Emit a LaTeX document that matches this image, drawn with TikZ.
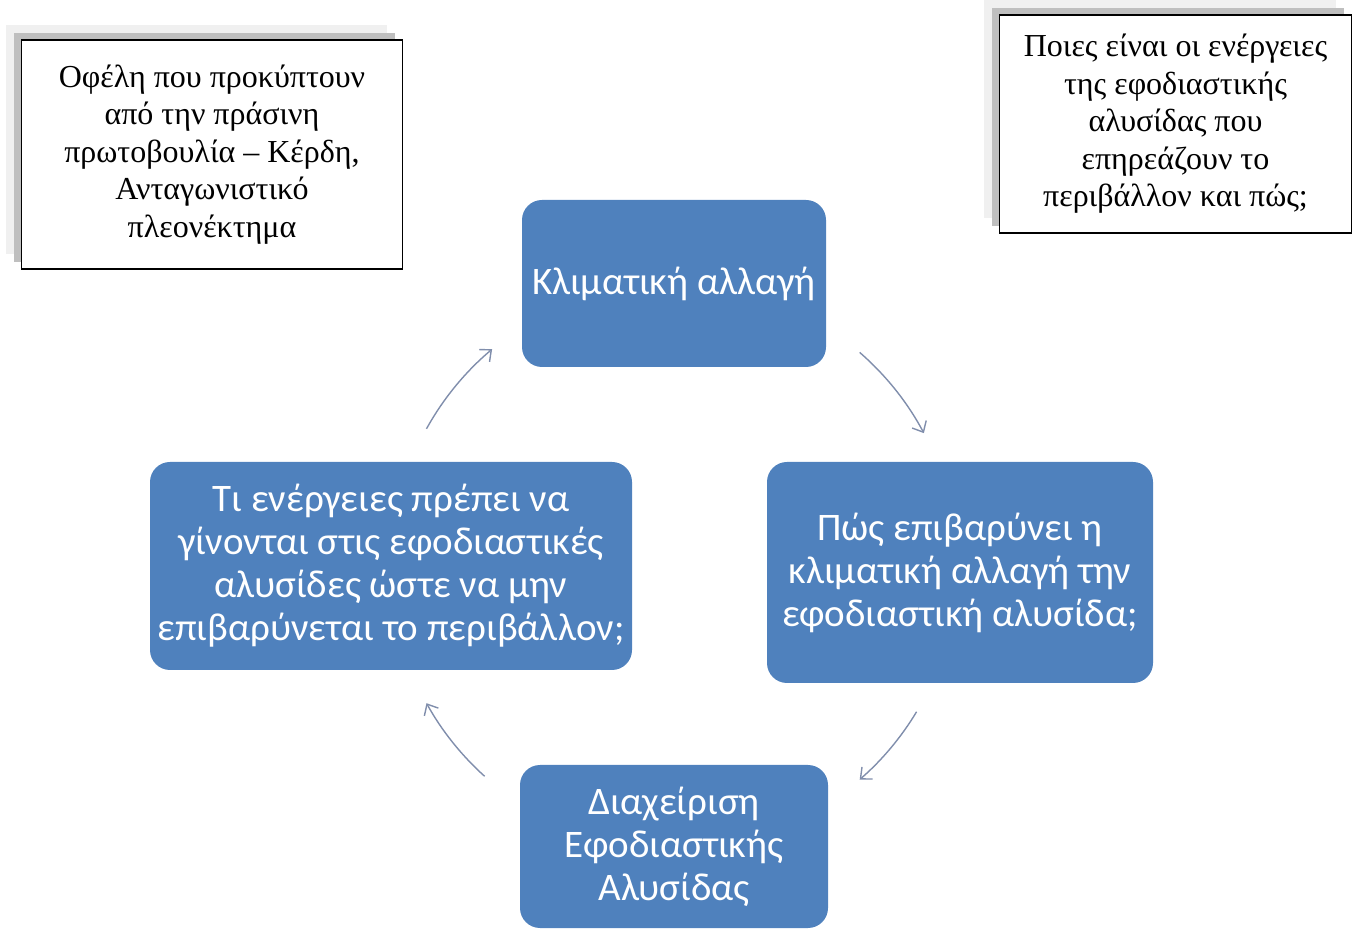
\documentclass[tikz,border=0pt]{standalone}
\usepackage{fontspec}
\setmainfont{Liberation Serif}
\newfontfamily\calibri{Carlito}
\usepackage{xcolor}
\usepackage{tikz}
\usetikzlibrary{positioning, arrows.meta, shadows}
\definecolor{accBlue}{RGB}{79, 129, 189}
\definecolor{accArrow}{RGB}{128, 142, 172}
\definecolor{shLight}{RGB}{240, 240, 240}
\definecolor{shDark}{RGB}{191, 191, 191}

\begin{document}
\begin{tikzpicture}[
    x=1pt, y=1pt,
    blk/.style={rectangle, rounded corners=20pt, fill=accBlue, draw=none, text=white,
        inner sep=0pt, align=center, font=\calibri\fontsize{39}{43}\selectfont},
    note/.style={rectangle, draw=black, line width=1.3pt, fill=white, inner sep=0pt,
        align=center, font=\fontsize{32}{37.5}\selectfont,
        general shadow={fill=shLight, shadow xshift=-16pt, shadow yshift=15pt},
        general shadow={fill=shDark, shadow xshift=-8pt, shadow yshift=7pt}},
    arr/.style={-{Straight Barb[length=9pt, width=16pt]}, line width=1.4pt, accArrow}
]
\useasboundingbox (0,0) rectangle (1353,930);

% side notes
\node[note, minimum width=381, minimum height=229] (advant) at (212,775.5)
    {Οφέλη που προκύπτουν\\από την πράσινη\\πρωτοβουλία – Κέρδη,\\Ανταγωνιστικό\\πλεονέκτημα};
\node[note, minimum width=352, minimum height=218] (query) at (1175.5,806)
    {Ποιες είναι οι ενέργειες\\της εφοδιαστικής\\αλυσίδας που\\επηρεάζουν το\\περιβάλλον και πώς;};

% cycle
\node[blk, minimum width=304, minimum height=167] (clim) at (674,646.5) {Κλιματική αλλαγή};
\node[blk, minimum width=386, minimum height=221] (impact) at (960,357.5)
    {Πώς επιβαρύνει η\\κλιματική αλλαγή την\\εφοδιαστική αλυσίδα;};
\node[blk, minimum width=308, minimum height=163] (scm) at (674,83.5)
    {Διαχείριση\\Εφοδιαστικής\\Αλυσίδας};
\node[blk, minimum width=482, minimum height=208] (act) at (391,364)
    {Τι ενέργειες πρέπει να\\γίνονται στις εφοδιαστικές\\αλυσίδες ώστε να μην\\επιβαρύνεται το περιβάλλον;};

\coordinate (ring) at (674,364);
\foreach \s/\e in {151/130, 49/28, -31/-49, -132/-151}
    \draw[arr] (ring) ++(\s:283) arc[start angle=\s, end angle=\e, radius=283];
\end{tikzpicture}
\end{document}
